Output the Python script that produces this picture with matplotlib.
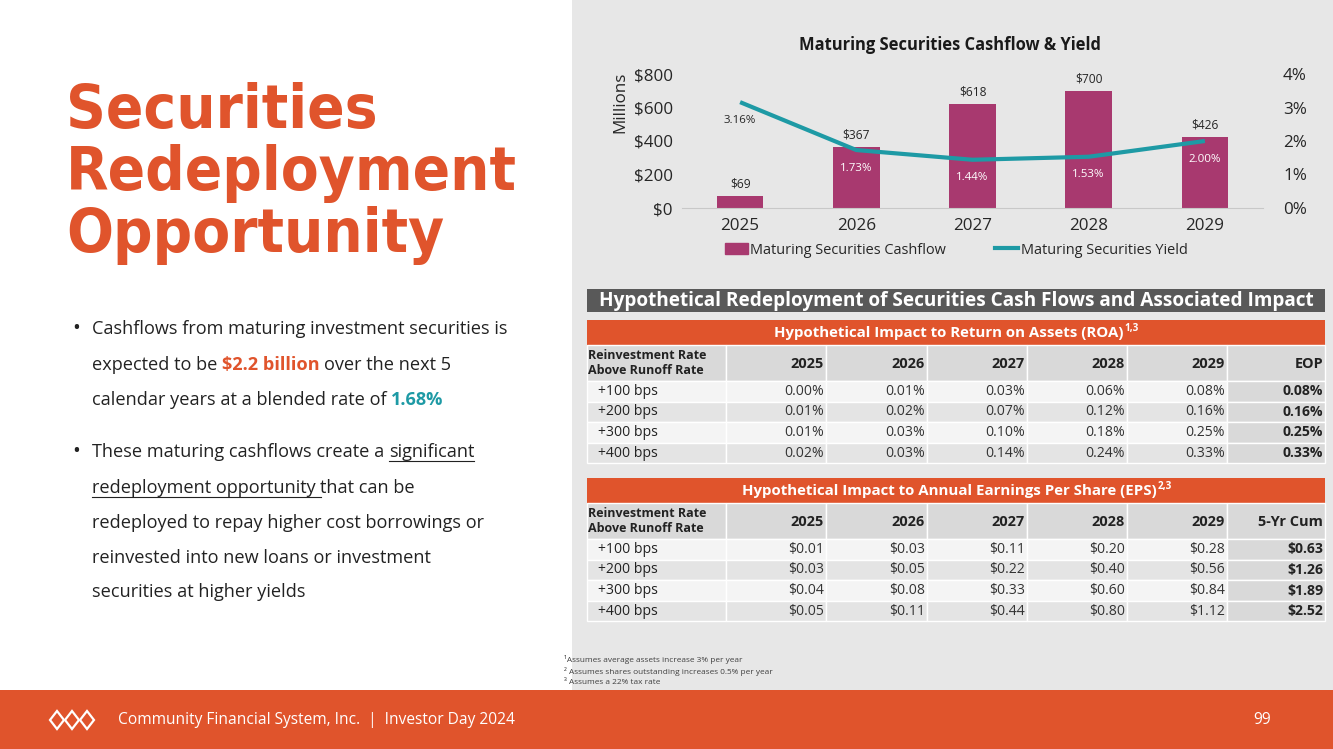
import matplotlib
matplotlib.use('Agg')
import matplotlib.pyplot as plt
from matplotlib.patches import Rectangle, Patch, Polygon
from matplotlib.lines import Line2D
import numpy as np

# ---- data ----
years = ['2025', '2026', '2027', '2028', '2029']
cashflow = [69, 367, 618, 700, 426]          # $ millions
yield_pct = [3.16, 1.73, 1.44, 1.53, 2.00]   # %

rate_rows = ['+100 bps', '+200 bps', '+300 bps', '+400 bps']
roa_cols = years + ['EOP']
roa_vals = [
    [0.00, 0.01, 0.03, 0.06, 0.08, 0.08],
    [0.01, 0.02, 0.07, 0.12, 0.16, 0.16],
    [0.01, 0.03, 0.10, 0.18, 0.25, 0.25],
    [0.02, 0.03, 0.14, 0.24, 0.33, 0.33],
]
eps_cols = years + ['5-Yr Cum']
eps_vals = [
    [0.01, 0.03, 0.11, 0.20, 0.28, 0.63],
    [0.03, 0.05, 0.22, 0.40, 0.56, 1.26],
    [0.04, 0.08, 0.33, 0.60, 0.84, 1.89],
    [0.05, 0.11, 0.44, 0.80, 1.12, 2.52],
]

# ---- style ----
W, H = 1333, 749
ORANGE = '#E0542C'
TEAL = '#1E9AA5'
BAR = '#A8396F'
PANEL = '#E7E7E7'
DARK = '#222222'
FONT = 'Open Sans'

plt.rcParams['font.family'] = [FONT, 'DejaVu Sans']


def pt(px):
    return px * 0.72


def box(x0, y0, x1, y1):
    return [x0 / W, 1 - y1 / H, (x1 - x0) / W, (y1 - y0) / H]


fig = plt.figure(figsize=(W / 100, H / 100), dpi=100)
renderer = fig.canvas.get_renderer()

bg = fig.add_axes([0, 0, 1, 1])
bg.set_xlim(0, W)
bg.set_ylim(H, 0)
bg.axis('off')

bg.add_patch(Rectangle((572, 0), W - 572, 690, color=PANEL, lw=0))
bg.add_patch(Rectangle((0, 690), W, H - 690, color=ORANGE, lw=0))


def text_w(s, **kw):
    t = bg.text(0, 0, s, **kw)
    w = t.get_window_extent(renderer).width
    t.remove()
    return w


# ---- left side: title ----
for i, word in enumerate(['Securities', 'Redeployment', 'Opportunity']):
    bg.text(66, 128 + i * 62, word, color=ORANGE, fontsize=pt(61.5),
            family='DejaVu Sans', fontweight='bold', fontstretch='condensed',
            va='baseline', ha='left')

# ---- left side: bullets ----
REG = dict(color=DARK, fontweight='normal')
bullet_lines = [
    (True, [('Cashflows from maturing investment securities is', REG, False)]),
    (False, [('expected to be', REG, False),
             ('$2.2 billion', dict(color=ORANGE, fontweight='bold'), False),
             ('over the next 5', REG, False)]),
    (False, [('calendar years at a blended rate of', REG, False),
             ('1.68%', dict(color=TEAL, fontweight='bold'), False)]),
    (True, [('These maturing cashflows create a', REG, False),
            ('significant', REG, True)]),
    (False, [('redeployment opportunity', REG, True),
             ('that can be', REG, False)]),
    (False, [('redeployed to repay higher cost borrowings or', REG, False)]),
    (False, [('reinvested into new loans or investment', REG, False)]),
    (False, [('securities at higher yields', REG, False)]),
]
line_y = [334, 370, 405, 457, 493, 528, 563, 597]
bsize = pt(18.2)
space = text_w('a a', fontsize=bsize) - text_w('aa', fontsize=bsize)
for (has_bullet, runs), y in zip(bullet_lines, line_y):
    if has_bullet:
        bg.text(72, y, '•', fontsize=pt(21), color=DARK, va='baseline')
    x = 92
    for k, (s, st, ul) in enumerate(runs):
        t = bg.text(x, y, s, fontsize=bsize, va='baseline', ha='left', **st)
        w = t.get_window_extent(renderer).width
        if ul:
            end = x + w + (space if k < len(runs) - 1 else 0)
            bg.plot([x, end], [y + 3.5, y + 3.5], color=DARK, lw=0.8)
        x += w + space

# ---- chart ----
ax = fig.add_axes(box(682, 74, 1263, 208))
ax.set_facecolor('none')
xs = np.arange(len(years))
ax.bar(xs, cashflow, width=0.4, color=BAR, zorder=2)
ax.set_xlim(-0.5, len(years) - 0.5)
ax.set_ylim(0, 800)
ax.set_yticks(range(0, 801, 200))
ax.set_yticklabels([f'${v}' for v in range(0, 801, 200)])
ax.set_xticks(xs)
ax.set_xticklabels(years)
for s in ['top', 'left', 'right']:
    ax.spines[s].set_visible(False)
ax.spines['bottom'].set_color('#C8C8C8')
TICK = pt(17)
ax.tick_params(axis='y', length=0, pad=pt(9), labelsize=TICK, labelcolor='#262626')
ax.tick_params(axis='x', length=0, pad=pt(10), labelsize=TICK, labelcolor='#262626')
ax.set_ylabel('Millions', fontsize=TICK, color='#262626')
ax.yaxis.set_label_coords(-0.093, 0.79)

ax2 = ax.twinx()
ax2.plot(xs, yield_pct, color=TEAL, lw=3, zorder=3, solid_capstyle='butt')
ax2.set_ylim(0, 4)
ax2.set_yticks(range(0, 5))
ax2.set_yticklabels([f'{v}%' for v in range(0, 5)])
for s in ['top', 'left', 'right', 'bottom']:
    ax2.spines[s].set_visible(False)
ax2.tick_params(axis='y', length=0, pad=pt(20), labelsize=TICK, labelcolor='#262626')

for i, v in enumerate(cashflow):
    ax.annotate(f'${v}', (i, v), xytext=(0, pt(12)), textcoords='offset points',
                ha='center', va='center', fontsize=pt(12), color='#262626')
for i, v in enumerate(yield_pct):
    label_px = v / 4 * 134 - 18
    bar_px = cashflow[i] / 800 * 134
    col = 'white' if bar_px > label_px + 6 else '#262626'
    ax2.annotate(f'{v:.2f}%', (i, v), xytext=(0, -pt(18)), textcoords='offset points',
                 ha='center', va='center', fontsize=pt(11.5), color=col, zorder=4)

bg.text(950, 45, 'Maturing Securities Cashflow & Yield', ha='center', va='center',
        fontsize=pt(16.5), fontweight='bold', color='#1a1a1a')

leg = ax.legend([Patch(color=BAR), Line2D([], [], color=TEAL, lw=3)],
                ['Maturing Securities Cashflow', 'Maturing Securities Yield'],
                loc='center', bbox_to_anchor=(956, 250), bbox_transform=bg.transData,
                ncol=2, frameon=False, fontsize=pt(14.5), handlelength=1.6,
                handleheight=0.8, handletextpad=0.15, columnspacing=3.4,
                labelcolor='#262626')

# ---- tables ----
col_edges = [587, 726, 826, 927, 1027, 1127, 1227, 1325]
ROW_H = 20.6
HDR_H = 36

bg.add_patch(Rectangle((587, 289), 1325 - 587, 23, color='#595959', lw=0))
bg.text((587 + 1325) / 2, 301, 'Hypothetical Redeployment of Securities Cash Flows and Associated Impact',
        ha='center', va='center', color='white', fontsize=pt(19), fontweight='bold')


def draw_table(top, title, sup, cols, vals, fmt):
    bg.add_patch(Rectangle((587, top), 1325 - 587, 25, color=ORANGE, lw=0))
    tsize = pt(15)
    w_main = text_w(title, fontsize=tsize, fontweight='bold')
    w_sup = text_w(sup, fontsize=pt(10), fontweight='bold')
    x0 = (587 + 1325) / 2 - (w_main + w_sup) / 2
    bg.text(x0, top + 12.5, title, ha='left', va='center', color='white',
            fontsize=tsize, fontweight='bold')
    bg.text(x0 + w_main + 1, top + 8, sup, ha='left', va='center', color='white',
            fontsize=pt(10), fontweight='bold')
    htop = top + 25
    # header row
    for c in range(len(col_edges) - 1):
        bg.add_patch(Rectangle((col_edges[c], htop), col_edges[c + 1] - col_edges[c], HDR_H,
                               facecolor='#D9D9D9', edgecolor='white', lw=1))
    bg.text(588, htop + HDR_H / 2, 'Reinvestment Rate\nAbove Runoff Rate', ha='left', va='center',
            fontsize=pt(12.5), fontweight='bold', color=DARK, linespacing=1.15)
    for c, name in enumerate(cols):
        bg.text(col_edges[c + 2] - 2, htop + HDR_H / 2 + 1, name, ha='right', va='center',
                fontsize=pt(14.5), fontweight='bold', color=DARK)
    # data rows
    rtop = htop + HDR_H
    for r, label in enumerate(rate_rows):
        y = rtop + r * ROW_H
        shade = '#F4F4F4' if r % 2 == 0 else '#E4E4E4'
        for c in range(len(col_edges) - 1):
            fc = '#D9D9D9' if c == len(col_edges) - 2 else shade
            bg.add_patch(Rectangle((col_edges[c], y), col_edges[c + 1] - col_edges[c], ROW_H,
                                   facecolor=fc, edgecolor='white', lw=1))
        bg.text(598, y + ROW_H / 2, label, ha='left', va='center', fontsize=pt(14), color=DARK)
        for c, v in enumerate(vals[r]):
            last = c == len(vals[r]) - 1
            bg.text(col_edges[c + 2] - 2, y + ROW_H / 2, fmt(v), ha='right', va='center',
                    fontsize=pt(14), color=DARK if last else '#333333',
                    fontweight='bold' if last else 'normal')


draw_table(320, 'Hypothetical Impact to Return on Assets (ROA)', '1,3', roa_cols, roa_vals,
           lambda v: f'{v:.2f}%')
draw_table(478, 'Hypothetical Impact to Annual Earnings Per Share (EPS)', '2,3', eps_cols, eps_vals,
           lambda v: f'${v:.2f}')

# ---- footnotes ----
notes = ['¹Assumes average assets increase 3% per year',
         '² Assumes shares outstanding increases 0.5% per year',
         '³ Assumes a 22% tax rate']
for i, n in enumerate(notes):
    bg.text(564, 660 + i * 11, n, ha='left', va='center', fontsize=pt(8.3), color='#404040')

# ---- footer ----
for cx in [57, 72, 87]:
    bg.add_patch(Polygon([[cx - 7, 720], [cx, 711], [cx + 7, 720], [cx, 729]], closed=True,
                         fill=False, edgecolor='white', lw=1.6))
bg.text(118, 720, 'Community Financial System, Inc.  |  Investor Day 2024', ha='left', va='center',
        color='white', fontsize=pt(15.5))
bg.text(1262, 720, '99', ha='center', va='center', color='white', fontsize=pt(15.5))

fig.savefig('out.png', dpi=100)
